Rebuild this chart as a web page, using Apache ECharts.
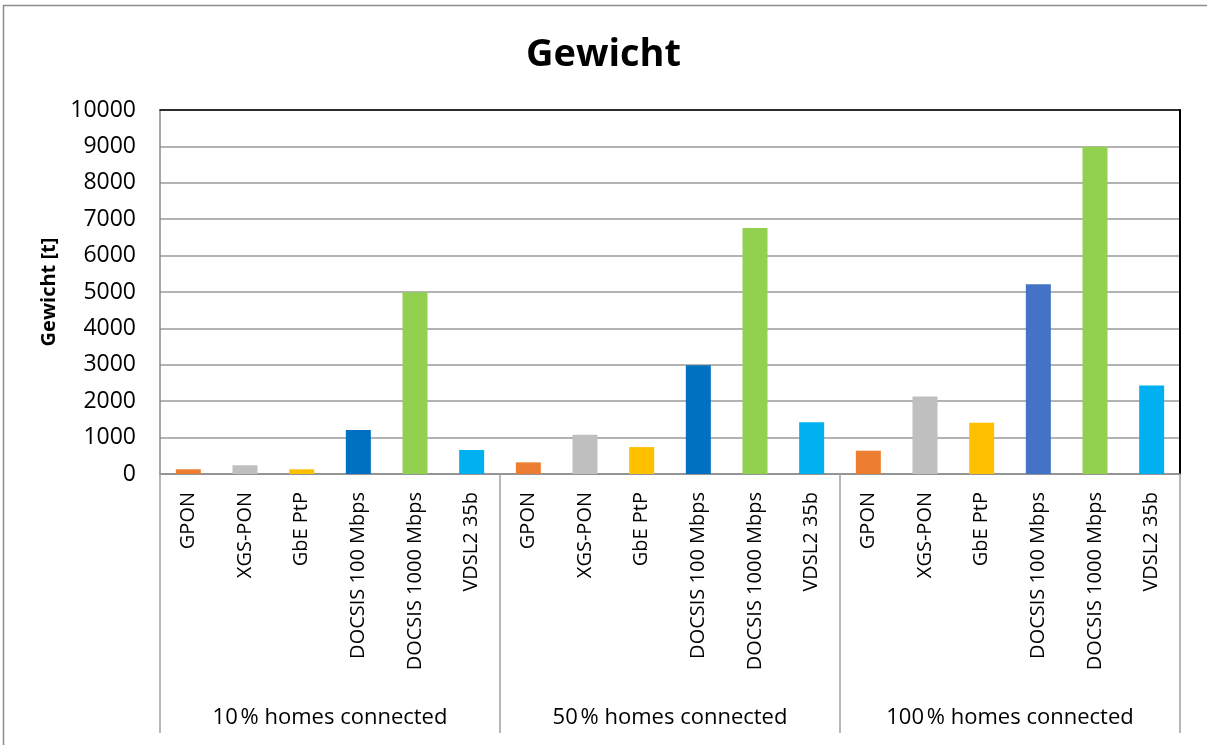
<!DOCTYPE html>
<html>
<head>
<meta charset="utf-8">
<script src="https://cdn.jsdelivr.net/npm/echarts@6/dist/echarts.min.js"></script>
<style>
  html, body { margin: 0; padding: 0; background: #fff; }
  #chart { width: 1207px; height: 745px; }
</style>
</head>
<body>
<div id="chart"></div>
<script>
// categories and values
var technologies = ["GPON", "XGS-PON", "GbE PtP", "DOCSIS 100 Mbps", "DOCSIS 1000 Mbps", "VDSL2 35b"];
var groups = ["10\u202F% homes connected", "50\u202F% homes connected", "100\u202F% homes connected"];
var weight10 = [130, 240, 130, 1210, 4990, 660];
var weight50 = [320, 1075, 740, 2990, 6760, 1420];
var weight100 = [640, 2130, 1410, 5210, 8990, 2430];
var yTicks = [0, 10000, 1000]; // min, max, interval

var colors10 = ["#ED7D31", "#BFBFBF", "#FFC000", "#0070C0", "#92D050", "#00B0F0"];
var colors100 = ["#ED7D31", "#BFBFBF", "#FFC000", "#4472C4", "#92D050", "#00B0F0"];

var font = "'Open Sans', 'Noto Sans', sans-serif";

// build flat axis + bar data
var xData = [];
var barData = [];
[weight10, weight50, weight100].forEach(function (vals, g) {
  var cols = g === 2 ? colors100 : colors10;
  vals.forEach(function (v, i) {
    xData.push(technologies[i]);
    barData.push({ value: v, itemStyle: { color: cols[i] } });
  });
});

var chart = echarts.init(document.getElementById("chart"));
chart.setOption({
  animation: false,
  backgroundColor: "#fff",
  title: {
    text: "Gewicht",
    left: "center",
    top: 31,
    textStyle: { fontFamily: font, fontSize: 38, fontWeight: "bold", color: "#000" }
  },
  graphic: [{
    type: "rect",
    z: -10,
    shape: { x: 3.5, y: 5.5, width: 1300, height: 800 },
    style: { fill: "none", stroke: "#8c8c8c", lineWidth: 1.5 }
  }],
  grid: { left: 160, top: 110, right: 27, bottom: 271 },
  xAxis: [
    {
      type: "category",
      data: xData,
      position: "bottom",
      axisLine: { lineStyle: { color: "#8a8a8a", width: 1.5 } },
      axisTick: { show: false },
      axisLabel: {
        interval: 0,
        rotate: 90,
        margin: 18,
        fontFamily: font,
        fontSize: 20,
        color: "#000"
      }
    },
    {
      type: "category",
      data: groups,
      position: "bottom",
      axisLine: { show: false },
      axisTick: { show: true, length: 259, interval: 0, lineStyle: { color: "#a0a0a0", width: 1.5 } },
      axisLabel: {
        interval: 0,
        margin: 233,
        fontFamily: font,
        fontSize: 22,
        color: "#000"
      }
    },
    {
      type: "category",
      data: groups,
      position: "top",
      axisLine: { lineStyle: { color: "#000", width: 1.5 } },
      axisTick: { show: false },
      axisLabel: { show: false }
    }
  ],
  yAxis: [
    {
      type: "value",
      min: yTicks[0],
      max: yTicks[1],
      interval: yTicks[2],
      name: "Gewicht [t]",
      nameLocation: "middle",
      nameGap: 89,
      nameTextStyle: { fontFamily: font, fontSize: 20, fontWeight: "bold", color: "#000" },
      axisLine: { show: true, lineStyle: { color: "#8a8a8a", width: 1.5 } },
      axisTick: { show: false },
      axisLabel: {
        margin: 24,
        fontFamily: font,
        fontSize: 23,
        color: "#000",
        formatter: function (v) { return String(v); }
      },
      splitLine: { lineStyle: { color: "#9a9a9a", width: 1.5 } }
    },
    {
      type: "value",
      position: "right",
      min: yTicks[0],
      max: yTicks[1],
      interval: yTicks[2],
      axisLine: { show: true, lineStyle: { color: "#000", width: 2 } },
      axisTick: { show: false },
      axisLabel: { show: false },
      splitLine: { show: false }
    }
  ],
  series: [{
    type: "bar",
    xAxisIndex: 0,
    yAxisIndex: 0,
    barWidth: 25,
    data: barData
  }]
});
</script>
</body>
</html>
